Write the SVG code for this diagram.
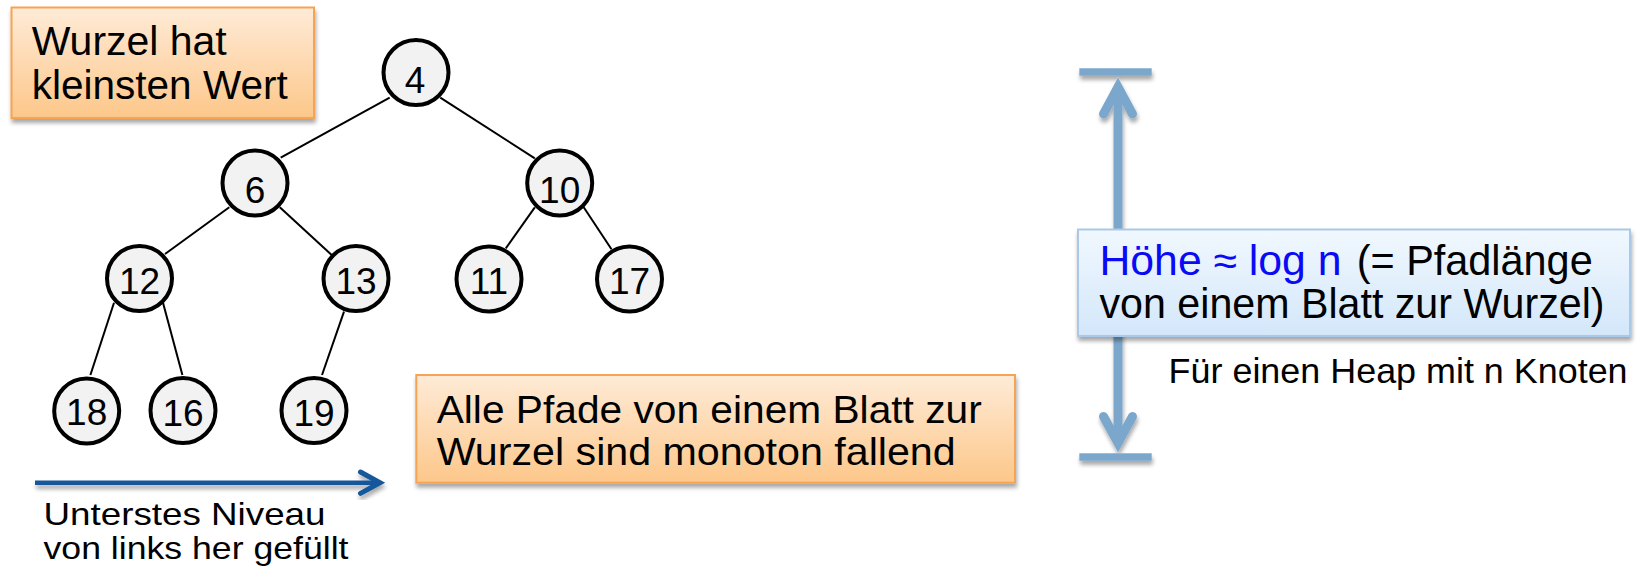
<svg xmlns="http://www.w3.org/2000/svg" width="1642" height="568" viewBox="0 0 1642 568">
  <defs>
    <linearGradient id="orangeFill" x1="0" y1="0" x2="0" y2="1">
      <stop offset="0" stop-color="#FEEBD7"/>
      <stop offset="1" stop-color="#FDC78A"/>
    </linearGradient>
    <linearGradient id="blueFill" x1="0" y1="0" x2="0" y2="1">
      <stop offset="0" stop-color="#F1F8FE"/>
      <stop offset="1" stop-color="#D3E7FA"/>
    </linearGradient>
    <filter id="shadow" x="-10%" y="-20%" width="120%" height="150%">
      <feGaussianBlur in="SourceAlpha" stdDeviation="2"/>
      <feOffset dx="1" dy="4" result="off"/>
      <feComponentTransfer>
        <feFuncA type="linear" slope="0.35"/>
      </feComponentTransfer>
      <feMerge>
        <feMergeNode/>
        <feMergeNode in="SourceGraphic"/>
      </feMerge>
    </filter>
  </defs>
  <style>
    text { font-family: "Liberation Sans", Arial, sans-serif; fill: #000; }
    .node circle { fill: #F2F2F2; stroke: #000; stroke-width: 4; }
    .node text { font-size: 37px; text-anchor: middle; }
    .edge { stroke: #000; stroke-width: 2; fill: none; }
    .note { fill: url(#orangeFill); stroke: #F5A454; stroke-width: 2; }
    .info { fill: url(#blueFill); stroke: #A9C9E6; stroke-width: 2; }
    .height { stroke: #7CA7CC; fill: none; }
  </style>

  <!-- tree edges -->
  <g id="edges">
    <line class="edge" x1="389.7" y1="97.7" x2="280.7" y2="157.7"/>
    <line class="edge" x1="440.3" y1="97.7" x2="534.8" y2="158.3"/>
    <line class="edge" x1="229.3" y1="207.3" x2="165" y2="254"/>
    <line class="edge" x1="279.8" y1="207.3" x2="331.7" y2="255"/>
    <line class="edge" x1="534.8" y1="207.3" x2="505.8" y2="248.3"/>
    <line class="edge" x1="583.7" y1="207.3" x2="611.5" y2="249.3"/>
    <line class="edge" x1="114" y1="302.7" x2="90.4" y2="375"/>
    <line class="edge" x1="163" y1="302.7" x2="182.4" y2="375"/>
    <line class="edge" x1="344" y1="311.7" x2="322" y2="375"/>
  </g>

  <!-- heap nodes -->
  <g id="n4" class="node"><circle cx="416" cy="72.5" r="32.5"/><text x="415" y="93">4</text></g>
  <g id="n6" class="node"><circle cx="255" cy="183" r="32.5"/><text x="255" y="203">6</text></g>
  <g id="n10" class="node"><circle cx="559.7" cy="183" r="32.5"/><text x="559.7" y="203">10</text></g>
  <g id="n12" class="node"><circle cx="139.5" cy="278.5" r="32.5"/><text x="139.5" y="294">12</text></g>
  <g id="n13" class="node"><circle cx="356" cy="278.5" r="32.5"/><text x="356" y="294">13</text></g>
  <g id="n11" class="node"><circle cx="489" cy="279" r="32.5"/><text x="489" y="294">11</text></g>
  <g id="n17" class="node"><circle cx="629.5" cy="279" r="32.5"/><text x="629.5" y="294">17</text></g>
  <g id="n18" class="node"><circle cx="86.7" cy="411" r="32.5"/><text x="86.7" y="425">18</text></g>
  <g id="n16" class="node"><circle cx="183" cy="410.5" r="32.5"/><text x="183" y="425.5">16</text></g>
  <g id="n19" class="node"><circle cx="314" cy="410.5" r="32.5"/><text x="314" y="425.5">19</text></g>

  <!-- note: root holds the minimum -->
  <g id="note-root">
    <rect class="note" x="11.5" y="7.5" width="302.5" height="110.5" filter="url(#shadow)"/>
    <text x="31.7" y="55" font-size="40" textLength="195" lengthAdjust="spacingAndGlyphs">Wurzel hat</text>
    <text x="31.7" y="99.3" font-size="40" textLength="256" lengthAdjust="spacingAndGlyphs">kleinsten Wert</text>
  </g>

  <!-- note: monotone paths -->
  <g id="note-paths">
    <rect class="note" x="416.3" y="375" width="598.7" height="107.7" filter="url(#shadow)"/>
    <text x="436.7" y="422.7" font-size="39" textLength="545" lengthAdjust="spacingAndGlyphs">Alle Pfade von einem Blatt zur</text>
    <text x="436.7" y="465" font-size="39" textLength="519" lengthAdjust="spacingAndGlyphs">Wurzel sind monoton fallend</text>
  </g>

  <!-- fill direction of the lowest level -->
  <g id="fill-direction">
    <g filter="url(#shadow)" stroke="#14569A" fill="none">
      <line x1="35" y1="482.7" x2="376" y2="482.7" stroke-width="4.5"/>
      <polyline points="360.5,472 380,482.7 360.5,493.4" stroke-width="5" stroke-linecap="round" stroke-linejoin="miter"/>
    </g>
    <text x="43.5" y="525" font-size="32" textLength="282" lengthAdjust="spacingAndGlyphs">Unterstes Niveau</text>
    <text x="43.5" y="558.5" font-size="32" textLength="305" lengthAdjust="spacingAndGlyphs">von links her gefüllt</text>
  </g>

  <!-- height dimension -->
  <g id="height-arrow" class="height" filter="url(#shadow)">
    <line x1="1079.3" y1="72" x2="1151.7" y2="72" stroke-width="7.5"/>
    <line x1="1079.3" y1="457" x2="1151.7" y2="457" stroke-width="7.5"/>
    <line x1="1118" y1="88" x2="1118" y2="441" stroke-width="9"/>
    <polyline points="1103.5,114 1118,87 1132.5,114" stroke-width="9" stroke-linecap="round" stroke-linejoin="miter"/>
    <polyline points="1103.5,416.5 1118,443 1132.5,416.5" stroke-width="9" stroke-linecap="round" stroke-linejoin="miter"/>
  </g>

  <g id="height-label">
    <rect class="info" x="1078" y="229.5" width="552" height="106.5" filter="url(#shadow)"/>
    <text y="275" font-size="42"><tspan x="1099.5" fill="#0A0AF5" textLength="242" lengthAdjust="spacingAndGlyphs">Höhe ≈ log n</tspan><tspan x="1356.7" textLength="236" lengthAdjust="spacingAndGlyphs">(= Pfadlänge</tspan></text>
    <text x="1099.5" y="317.7" font-size="42" textLength="505" lengthAdjust="spacingAndGlyphs">von einem Blatt zur Wurzel)</text>
  </g>

  <text id="heap-size" x="1168.6" y="383.3" font-size="35" textLength="459" lengthAdjust="spacingAndGlyphs">Für einen Heap mit n Knoten</text>
</svg>
